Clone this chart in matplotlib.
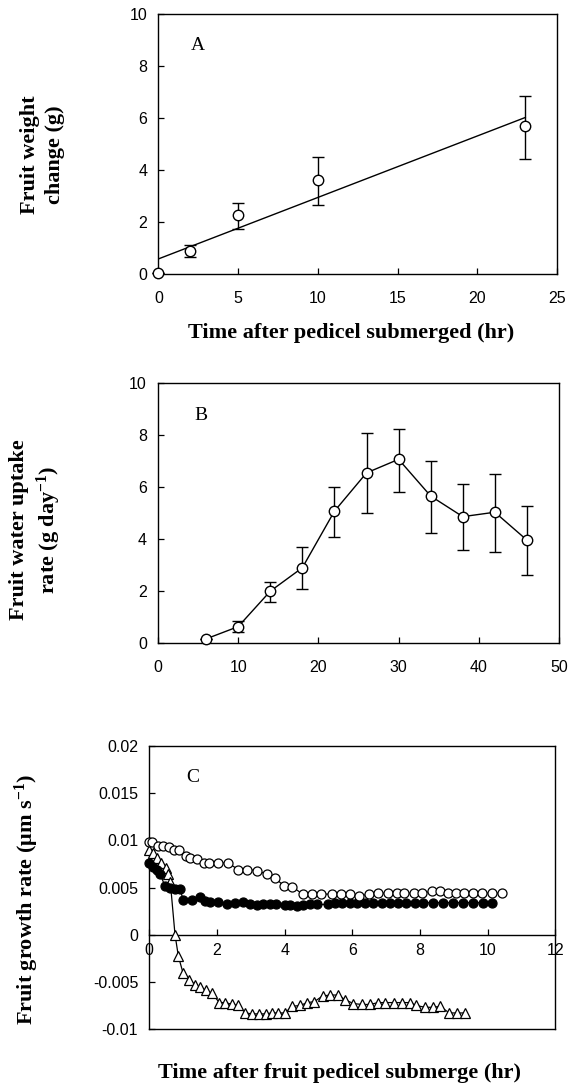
import matplotlib
matplotlib.use('Agg')
import matplotlib.pyplot as plt
from matplotlib.ticker import FuncFormatter, MultipleLocator

plt.rcParams['font.family'] = 'Liberation Sans'
plt.rcParams['axes.unicode_minus'] = False
plt.rcParams['mathtext.fontset'] = 'custom'
plt.rcParams['mathtext.rm'] = 'Liberation Serif:bold'
plt.rcParams['mathtext.bf'] = 'Liberation Serif:bold'
plt.rcParams['mathtext.it'] = 'Liberation Serif:bold'

# ---------------- Panel A data ----------------
a_time = [0, 2, 5, 10, 23]
a_weight = [0.05, 0.9, 2.27, 3.6, 5.68]
a_err_hi = [0.0, 0.22, 0.45, 0.9, 1.17]
a_err_lo = [0.0, 0.23, 0.53, 0.95, 1.25]
a_fit_x = [0, 23]
a_fit_y = [0.58, 6.02]

# ---------------- Panel B data ----------------
b_time = [6, 10, 14, 18, 22, 26, 30, 34, 38, 42, 46]
b_rate = [0.17, 0.64, 2.0, 2.9, 5.07, 6.54, 7.06, 5.65, 4.86, 5.03, 3.96]
b_err_hi = [0.0, 0.2, 0.34, 0.79, 0.93, 1.54, 1.17, 1.33, 1.25, 1.48, 1.29]
b_err_lo = [0.0, 0.2, 0.43, 0.83, 0.98, 1.53, 1.24, 1.41, 1.27, 1.54, 1.33]

# ---------------- Panel C data ----------------
open_t = [0.0, 0.09, 0.25, 0.41, 0.58, 0.73, 0.89, 1.07, 1.21, 1.40,
          1.61, 1.77, 2.02, 2.33, 2.63, 2.90, 3.17, 3.49, 3.72, 3.97,
          4.22, 4.53, 4.80, 5.07, 5.40, 5.67, 5.94, 6.21, 6.49, 6.76,
          7.05, 7.31, 7.53, 7.81, 8.05, 8.35, 8.59, 8.84, 9.07, 9.29,
          9.56, 9.82, 10.12, 10.42]
open_r = [0.0098, 0.0098, 0.0094, 0.0094, 0.0093, 0.0090, 0.0090, 0.0083, 0.0081, 0.0080,
          0.0076, 0.0076, 0.0076, 0.0076, 0.0069, 0.0069, 0.0068, 0.0064, 0.0060, 0.0052,
          0.0051, 0.0043, 0.0043, 0.0043, 0.0043, 0.0043, 0.0043, 0.0041, 0.0043, 0.0044,
          0.0044, 0.0044, 0.0044, 0.0044, 0.0044, 0.0046, 0.0046, 0.0044, 0.0044, 0.0044,
          0.0044, 0.0044, 0.0044, 0.0044]

fill_t = [0.0, 0.1, 0.22, 0.32, 0.46, 0.61, 0.76, 0.91, 1.0, 1.25,
          1.5, 1.65, 1.79, 2.04, 2.29, 2.53, 2.78, 2.98, 3.17, 3.37,
          3.57, 3.75, 4.01, 4.16, 4.36, 4.55, 4.75, 4.95, 5.29, 5.49,
          5.69, 5.93, 6.13, 6.38, 6.62, 6.87, 7.1, 7.35, 7.6, 7.86,
          8.09, 8.39, 8.68, 8.98, 9.27, 9.57, 9.86, 10.12]
fill_r = [0.0076, 0.0072, 0.0069, 0.0064, 0.0052, 0.0049, 0.0048, 0.0048, 0.0037, 0.0037,
          0.0040, 0.0036, 0.0035, 0.0035, 0.0033, 0.0034, 0.0035, 0.0032, 0.0031, 0.0032,
          0.0032, 0.0032, 0.0031, 0.0031, 0.0030, 0.0031, 0.0032, 0.0032, 0.0032, 0.0034,
          0.0034, 0.0034, 0.0034, 0.0034, 0.0034, 0.0034, 0.0034, 0.0034, 0.0034, 0.0034,
          0.0034, 0.0034, 0.0034, 0.0034, 0.0034, 0.0034, 0.0034, 0.0034]

tri_t = [0.0, 0.12, 0.24, 0.36, 0.48, 0.56, 0.62, 0.76, 0.86, 1.0,
         1.18, 1.35, 1.5, 1.67, 1.85, 2.07, 2.25, 2.45, 2.63, 2.84,
         3.04, 3.24, 3.44, 3.63, 3.81, 4.0, 4.23, 4.46, 4.67, 4.88,
         5.12, 5.35, 5.57, 5.79, 6.03, 6.28, 6.52, 6.77, 6.97, 7.22,
         7.46, 7.71, 7.88, 8.15, 8.38, 8.59, 8.87, 9.1, 9.34]
tri_r = [0.0090, 0.0087, 0.0081, 0.0076, 0.0071, 0.0064, 0.0056, 0.0, -0.0023, -0.0041,
         -0.0048, -0.0053, -0.0056, -0.0059, -0.0062, -0.0072, -0.0072, -0.0074, -0.0075, -0.0083,
         -0.0084, -0.0084, -0.0084, -0.0083, -0.0083, -0.0083, -0.0076, -0.0075, -0.0072, -0.0071,
         -0.0065, -0.0064, -0.0064, -0.0069, -0.0073, -0.0074, -0.0074, -0.0072, -0.0072, -0.0072,
         -0.0072, -0.0072, -0.0075, -0.0077, -0.0077, -0.0076, -0.0083, -0.0083, -0.0083]

W, H = 571, 1091
fig = plt.figure(figsize=(W / 100, H / 100), dpi=100)


def px_axes(left, right, top, bottom):
    return fig.add_axes([left / W, 1 - bottom / H, (right - left) / W, (bottom - top) / H])


TICK_FS = 11.5
LABEL_FONT = dict(family='Liberation Serif', weight='bold', size=16)
LETTER_FONT = dict(family='Liberation Serif', size=14)


def style(ax, xpad=12, ypad=8):
    for s in ax.spines.values():
        s.set_linewidth(1.0)
    ax.tick_params(direction='in', length=4, width=0.9, labelsize=TICK_FS,
                   top=False, right=False)
    ax.tick_params(axis='x', pad=xpad)
    ax.tick_params(axis='y', pad=ypad)


# ---------------- Panel A ----------------
axA = px_axes(158.4, 557.2, 14, 274)
axA.plot(a_fit_x, a_fit_y, color='black', lw=1.0, zorder=2)
axA.errorbar(a_time, a_weight, yerr=[a_err_lo, a_err_hi], fmt='o', ms=7.5,
             mfc='white', mec='black', mew=1.0, ecolor='black', elinewidth=1.0,
             capsize=4.5, capthick=1.0, zorder=3, clip_on=False)
axA.set_xlim(0, 25)
axA.set_ylim(0, 10)
axA.xaxis.set_major_locator(MultipleLocator(5))
axA.yaxis.set_major_locator(MultipleLocator(2))
style(axA, xpad=12)
axA.text(2.5, 8.8, 'A', ha='center', va='center', **LETTER_FONT)
fig.text(351 / W, 1 - 333 / H, 'Time after pedicel submerged (hr)',
         ha='center', va='center', **LABEL_FONT)
fig.text(42.7 / W, 1 - 155 / H, 'Fruit weight\nchange (g)', rotation=90,
         ha='center', va='center', linespacing=1.3, **LABEL_FONT)

# ---------------- Panel B ----------------
axB = px_axes(158.0, 559.0, 382.7, 643.3)
axB.errorbar(b_time, b_rate, yerr=[b_err_lo, b_err_hi], fmt='-o', ms=7.5,
             color='black', lw=1.0,
             mfc='white', mec='black', mew=1.0, ecolor='black', elinewidth=1.0,
             capsize=4.5, capthick=1.0, zorder=3, clip_on=False)
axB.set_xlim(0, 50)
axB.set_ylim(0, 10)
axB.xaxis.set_major_locator(MultipleLocator(10))
axB.yaxis.set_major_locator(MultipleLocator(2))
style(axB, xpad=12)
axB.text(5.3, 8.76, 'B', ha='center', va='center', **LETTER_FONT)
fig.text(36 / W, 1 - 530 / H, 'Fruit water uptake\nrate (g day$^{-1}$)', rotation=90,
         ha='center', va='center', linespacing=1.25, **LABEL_FONT)

# ---------------- Panel C ----------------
axC = px_axes(149.3, 555.3, 746, 1029)
kw = dict(color='black', lw=0.9, ms=6.5, mew=0.9, clip_on=False)
axC.plot(tri_t, tri_r, '-^', mfc='white', mec='black', zorder=3, **kw)
axC.plot(fill_t, fill_r, '-o', mfc='black', mec='black', zorder=4, **kw)
axC.plot(open_t, open_r, '-o', mfc='white', mec='black', zorder=5, **kw)
axC.set_xlim(0, 12)
axC.set_ylim(-0.01, 0.02)
axC.xaxis.set_major_locator(MultipleLocator(2))
axC.yaxis.set_major_locator(MultipleLocator(0.005))
axC.yaxis.set_major_formatter(FuncFormatter(lambda v, p: f'{round(v, 4) + 0.0:g}'))
axC.spines['bottom'].set_position(('data', 0))
axC.plot([0, 1], [0, 0], transform=axC.transAxes, color='black', lw=1.0,
         clip_on=False, zorder=6)
style(axC, xpad=6)
axC.text(1.29, 0.01665, 'C', ha='center', va='center', **LETTER_FONT)
fig.text(27 / W, 1 - 900 / H, 'Fruit growth rate (μm s$^{-1}$)', rotation=90,
         ha='center', va='center', **LABEL_FONT)
fig.text(340 / W, 1 - 1073 / H, 'Time after fruit pedicel submerge (hr)',
         ha='center', va='center', **LABEL_FONT)

fig.savefig('out.png', dpi=100)
